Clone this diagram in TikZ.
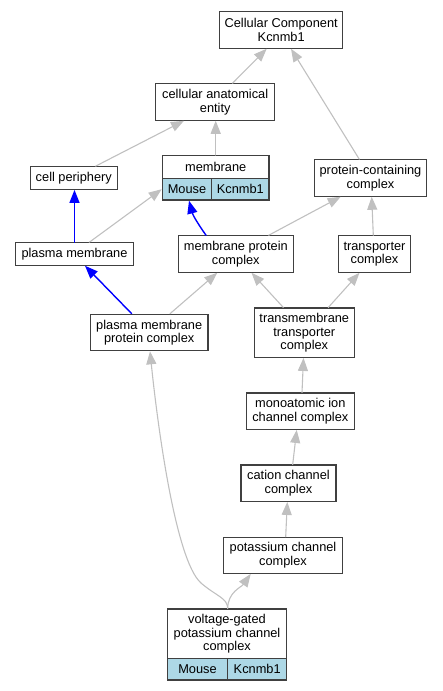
\documentclass[tikz,border=0pt]{standalone}
\usepackage{fontspec}
\setmainfont{Liberation Sans}
\usetikzlibrary{arrows.meta}
\definecolor{edgegray}{HTML}{C0C0C0}
\definecolor{boxline}{HTML}{404040}
\definecolor{gene}{HTML}{ADD8E6}

\begin{document}
\begin{tikzpicture}[x=1pt, y=-1pt]
  \tikzstyle{term}=[draw=boxline, line width=1.2pt, fill=white, inner sep=0pt,
    align=center, font=\fontsize{12.8}{13.4}\selectfont];
  \tikzstyle{cell}=[term, fill=gene, minimum height=21.7pt];
  \tikzstyle{isa}=[edgegray, line width=1.1pt, line cap=round,
    -{Triangle[length=13pt, width=10pt]}];
  \tikzstyle{partof}=[isa, blue, line width=1.4pt];
  \useasboundingbox (0, 0) rectangle (443, 691);
  %
  % top of the tree
  \node[term, minimum width=123pt, minimum height=36.3pt] (root) at (281.2, 30)
    {Cellular Component\\Kcnmb1};
  \node[term, minimum width=119pt, minimum height=36.3pt] (cae) at (215.2, 102)
    {cellular anatomical\\entity};
  \node[term, minimum width=87pt, minimum height=22.6pt] (cellp) at (73.8, 178)
    {cell periphery};
  \node[term, minimum width=112.4pt, minimum height=36.3pt] (pcc) at (370.5, 178)
    {protein-containing\\complex};
  %
  % membrane, with its annotation
  \node[term, minimum width=106.7pt, minimum height=22.6pt] (mem) at (215.7, 167)
    {membrane};
  \node[cell, minimum width=49.4pt] (memMouse) at (187, 189.2) {Mouse};
  \node[cell, minimum width=57.3pt] (memGene) at (240.3, 189.2) {Kcnmb1};
  %
  % middle rows
  \node[term, minimum width=117.6pt, minimum height=22.3pt] (pm) at (74.5, 254)
    {plasma membrane};
  \node[term, minimum width=115pt, minimum height=36.3pt] (mpc) at (235.8, 254)
    {membrane protein\\complex};
  \node[term, minimum width=72.4pt, minimum height=36.3pt] (tc) at (374.5, 254)
    {transporter\\complex};
  \node[term, minimum width=117.7pt, minimum height=36.4pt] (pmpc) at (149.2, 332.5)
    {plasma membrane\\protein complex};
  \node[term, minimum width=100pt, minimum height=49.3pt] (tmtc) at (304.3, 332.7)
    {transmembrane\\transporter\\complex};
  \node[term, minimum width=108pt, minimum height=36.3pt] (mic) at (300.3, 411.2)
    {monoatomic ion\\channel complex};
  \node[term, minimum width=95pt, minimum height=36.3pt] (ccc) at (288.5, 483.2)
    {cation channel\\complex};
  \node[term, minimum width=119.4pt, minimum height=36pt] (kcc) at (283, 555.3)
    {potassium channel\\complex};
  %
  % voltage-gated complex, with its annotation
  \node[term, minimum width=119.4pt, minimum height=49.3pt] (vg) at (227, 633.7)
    {voltage-gated\\potassium channel\\complex};
  \node[cell, minimum width=60.4pt] (vgMouse) at (197.5, 669.2) {Mouse};
  \node[cell, minimum width=59pt] (vgGene) at (257.2, 669.2) {Kcnmb1};
  %
  % is_a edges
  \draw[isa] ([xshift=17.3pt]cae.north) -- ([xshift=-14.5pt]root.south);
  \draw[isa] ([xshift=-11.2pt]pcc.north) -- ([xshift=9.8pt]root.south);
  \draw[isa] ([xshift=21.9pt]cellp.north) -- ([xshift=-31.2pt]cae.south);
  \draw[isa] (mem.north) -- (mem.north |- cae.south);
  \draw[isa] ([xshift=14.8pt]pm.north) -- (memMouse.west);
  \draw[isa] ([xshift=32.9pt]mpc.north) -- ([xshift=-29.8pt]pcc.south);
  \draw[isa] ([xshift=-1.2pt]tc.north) -- ([xshift=1.2pt]pcc.south);
  \draw[isa] ([xshift=20.8pt]pmpc.north) -- ([xshift=-18.5pt]mpc.south);
  \draw[isa] ([xshift=-21pt]tmtc.north) -- ([xshift=15.7pt]mpc.south);
  \draw[isa] ([xshift=24pt]tmtc.north) -- ([xshift=-15pt]tc.south);
  \draw[isa] ([xshift=1.7pt]mic.north) -- ([xshift=-0.8pt]tmtc.south);
  \draw[isa] ([xshift=4.2pt]ccc.north) -- ([xshift=-3.6pt]mic.south);
  \draw[isa] ([xshift=2.7pt]kcc.north) -- ([xshift=-1.2pt]ccc.south);
  \draw[isa] ([xshift=0.7pt]vg.north) to[out=90, in=-125] ([xshift=-32.3pt]kcc.south);
  \draw[isa] ([xshift=0.7pt]vg.north) .. controls (227.7, 598) and (216, 596)
    .. (201, 583) .. controls (175, 560) and (157, 420) .. ([xshift=0.8pt]pmpc.south);
  %
  % part_of edges
  \draw[partof] (pm.north) -- (pm.north |- cellp.south);
  \draw[partof] ([xshift=-29.8pt]mpc.north) to[out=125, in=-75] ([xshift=2pt]memMouse.south);
  \draw[partof] ([xshift=-17.5pt]pmpc.north) -- ([xshift=10.5pt]pm.south);
\end{tikzpicture}
\end{document}
